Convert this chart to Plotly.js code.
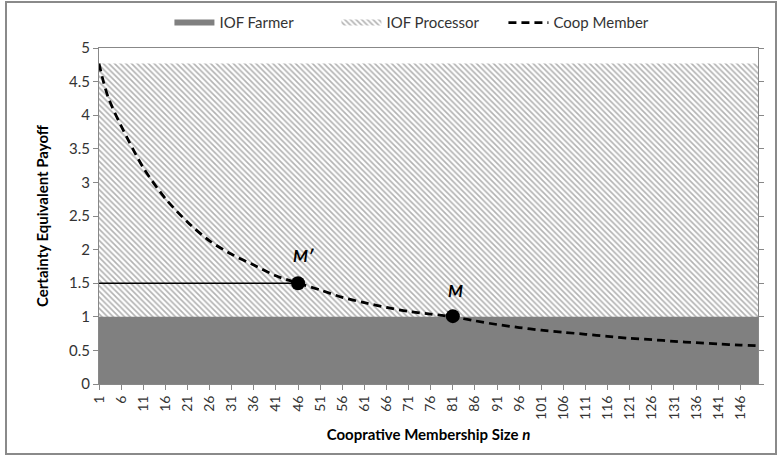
<!DOCTYPE html>
<html>
<head>
<meta charset="utf-8">
<script src="https://cdn.plot.ly/plotly-3.0.1.min.js"></script>
<style>
  html, body { margin: 0; padding: 0; background: #fff; }
  #wrap { position: relative; width: 779px; height: 458px; }
  #chart { width: 779px; height: 458px; }
  #frame { position: absolute; left: 5px; top: 1px; width: 768px; height: 450px;
           border: 2px solid #8a8a8a; pointer-events: none; }
</style>
</head>
<body>
<div id="wrap">
  <div id="chart"></div>
  <div id="frame"></div>
</div>
<script>
// ---- data ----
const nRange = [1, 150];                 // cooperative membership size n (category span)
const farmerPayoff = [1, 1];             // IOF Farmer (constant)
const processorPayoff = [4.77, 4.77];    // IOF Processor (constant)

const coopN = [1, 2, 3, 4, 6, 11, 16, 21, 26, 31, 36, 41, 46, 51, 56, 61, 66, 71, 76, 81,
               86, 91, 96, 101, 106, 111, 116, 121, 126, 131, 136, 141, 146, 150];
const coopPayoff = [4.77, 4.50, 4.28, 4.12, 3.84, 3.22, 2.76, 2.41, 2.13, 1.93, 1.77, 1.61, 1.50, 1.40,
                    1.29, 1.21, 1.14, 1.08, 1.04, 1.00, 0.94, 0.885, 0.84, 0.80, 0.77, 0.74,
                    0.71, 0.68, 0.66, 0.635, 0.615, 0.595, 0.58, 0.57];

const pointLabels = ["M\u2032", "M"];
const pointN = [46, 81];
const pointPayoff = [1.5, 1.01];

const refLineN = [1, 46];
const refLinePayoff = [1.5, 1.5];

const tickVals = [1, 6, 11, 16, 21, 26, 31, 36, 41, 46, 51, 56, 61, 66, 71, 76, 81, 86, 91, 96,
                  101, 106, 111, 116, 121, 126, 131, 136, 141, 146];
const tickText = ["1", "6", "11", "16", "21", "26", "31", "36", "41", "46", "51", "56", "61", "66",
                  "71", "76", "81", "86", "91", "96", "101", "106", "111", "116", "121", "126",
                  "131", "136", "141", "146"];
const yTicks = [0, 0.5, 1, 1.5, 2, 2.5, 3, 3.5, 4, 4.5, 5];
const yTickText = ["0", "0.5", "1", "1.5", "2", "2.5", "3", "3.5", "4", "4.5", "5"];

const FONT = "Lato, 'Open Sans', sans-serif";

const traces = [
  {
    x: nRange, y: processorPayoff, name: "IOF Processor", type: "scatter", mode: "none",
    fill: "tozeroy", fillcolor: "#ffffff",
    fillpattern: { shape: "\\", fgcolor: "#b2b2b2", bgcolor: "#ffffff", size: 4, solidity: 0.4 },
    legendrank: 2, hoverinfo: "skip"
  },
  {
    x: nRange, y: farmerPayoff, name: "IOF Farmer", type: "scatter", mode: "none",
    fill: "tozeroy", fillcolor: "#808080", legendrank: 1, hoverinfo: "skip"
  },
  {
    x: refLineN, y: refLinePayoff, type: "scatter", mode: "lines", showlegend: false,
    line: { color: "#000", width: 1.5 }, hoverinfo: "skip"
  },
  {
    x: coopN, y: coopPayoff, name: "Coop Member", type: "scatter", mode: "lines",
    line: { color: "#000", width: 2.75, dash: "8px,5px", shape: "spline", smoothing: 0.8 },
    legendrank: 3
  },
  {
    x: pointN, y: pointPayoff, type: "scatter", mode: "markers", showlegend: false,
    marker: { color: "#000", size: 14 }
  }
];

const annotations = pointLabels.map((t, i) => ({
  x: pointN[i], y: pointPayoff[i], xref: "x", yref: "y",
  text: "<b><i>" + t + "</i></b>", showarrow: false,
  xshift: i === 0 ? 5 : 3, yshift: i === 0 ? 28 : 26,
  font: { family: FONT, size: 17, color: "#000" }
}));

const layout = {
  width: 779, height: 458,
  margin: { l: 99, r: 21, t: 48, b: 74, autoexpand: false },
  paper_bgcolor: "rgba(0,0,0,0)", plot_bgcolor: "#fff",
  font: { family: FONT, size: 14, color: "#333" },
  showlegend: true,
  legend: {
    orientation: "h", x: 0.487, xanchor: "center", y: 1.075, yanchor: "middle",
    font: { family: FONT, size: 15, color: "#333" }, traceorder: "normal",
    entrywidth: 112, entrywidthmode: "pixels", itemwidth: 40
  },
  xaxis: {
    range: [1, 150], tickvals: tickVals, ticktext: tickText, tickangle: -90,
    ticks: "outside", ticklen: 5, tickcolor: "#888", showline: true, linecolor: "#888",
    linewidth: 1, mirror: true, showgrid: false, zeroline: false,
    tickfont: { family: FONT, size: 14, color: "#333" },
    title: { text: "<b>Cooprative Membership Size <i>n</i></b>", standoff: 10,
             font: { family: FONT, size: 15, color: "#000" } }
  },
  yaxis: {
    range: [0, 5], tickvals: yTicks, ticktext: yTickText,
    ticks: "outside", ticklen: 5, tickcolor: "#888", showline: true, linecolor: "#888",
    linewidth: 1, mirror: "ticks", showgrid: false, zeroline: false,
    tickfont: { family: FONT, size: 15, color: "#333" },
    title: { text: "<b>Certainty Equivalent Payoff</b>", standoff: 16,
             font: { family: FONT, size: 15, color: "#000" } }
  },
  annotations: annotations
};

Plotly.newPlot("chart", traces, layout, { displayModeBar: false, staticPlot: true });
</script>
</body>
</html>
